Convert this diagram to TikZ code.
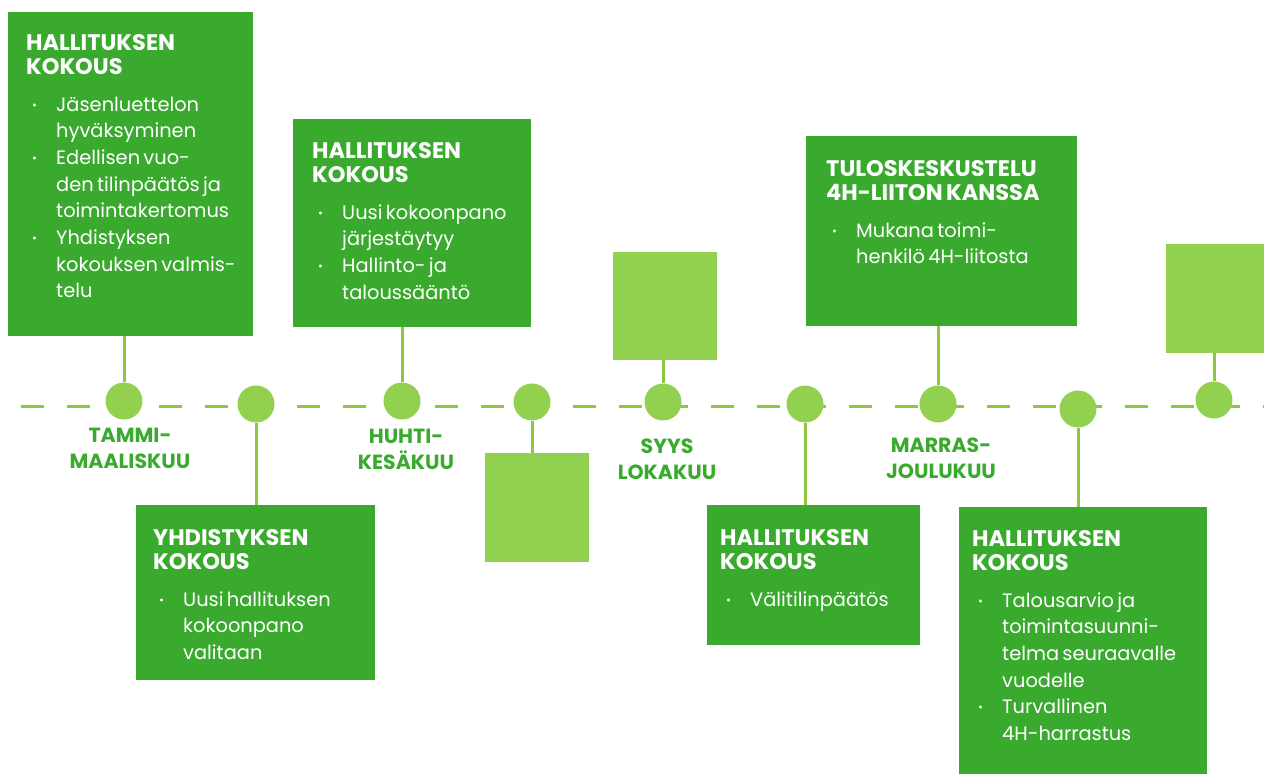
\documentclass[tikz,border=0pt]{standalone}
\usepackage{fontspec}
\setmainfont{Poppins}
\usetikzlibrary{calc}
\definecolor{dkg}{RGB}{58,170,46}
\definecolor{ltg}{RGB}{146,208,80}
\definecolor{lng}{RGB}{141,198,63}
\newcommand\hdf{\fontsize{22.5}{24}\bfseries\selectfont}
\newcommand\bdf{\fontsize{19.4}{26.7}\selectfont}
\newcommand\bul{\makebox[30pt][l]{\hspace{6pt}\raisebox{2pt}{\fontsize{12}{12}\selectfont •}}}
\newcommand\bit[1]{\par\noindent\hangindent=30pt\hangafter=1\bul{\let\\\newline #1}}
\newcommand\boxtext[2]{\setlength\parindent{0pt}\setlength\parskip{0pt}{\hdf #1\par}\vspace{10.3pt}{\bdf #2\par}}
\tikzset{
  dbox/.style={fill=dkg, draw=none, inner sep=0, anchor=north west},
  lbox/.style={fill=ltg, draw=none, inner sep=0, anchor=north west},
  dot/.style={circle, fill=ltg, draw=none, minimum size=37pt, inner sep=0},
  conn/.style={draw=lng, line width=3pt},
  tline/.style={draw=lng, line width=3pt, dash pattern=on 23pt off 23pt},
  txt/.style={anchor=base west, inner sep=0, text width=280pt, text=white},
  lbl/.style={anchor=base, inner sep=0, align=center, text=dkg, font=\fontsize{20.5}{25.5}\bfseries\selectfont}
}
\begin{document}
\begin{tikzpicture}[x=1pt,y=-1pt]
\useasboundingbox (0,0) rectangle (1264,774);
% timeline
\coordinate (ls) at (21,406);
\coordinate (le) at (1264,406);
\draw[tline] (ls) -- (le);
% boxes
\node[dbox, minimum width=245pt, minimum height=324pt] (b1) at (8,12) {};
\node[dbox, minimum width=239pt, minimum height=175pt] (b2) at (136,505) {};
\node[dbox, minimum width=238pt, minimum height=208pt] (b3) at (293,119) {};
\node[lbox, minimum width=104pt, minimum height=109pt] (b4) at (485,453) {};
\node[lbox, minimum width=104pt, minimum height=108pt] (b5) at (613,252) {};
\node[dbox, minimum width=213pt, minimum height=140pt] (b6) at (707,505) {};
\node[dbox, minimum width=271pt, minimum height=190pt] (b7) at (806,136) {};
\node[dbox, minimum width=248pt, minimum height=267pt] (b8) at (959,507) {};
\node[lbox, minimum width=98pt, minimum height=109pt] (b9) at (1166,244) {};
% circles
\node[dot] (c1) at (124,401) {};
\node[dot] (c2) at (256,404) {};
\node[dot] (c3) at (402,401) {};
\node[dot] (c4) at (532,402) {};
\node[dot] (c5) at (663,402) {};
\node[dot] (c6) at (805,404) {};
\node[dot] (c7) at (938,404) {};
\node[dot] (c8) at (1078,409) {};
\node[dot] (c9) at (1214,400) {};
% connectors
\draw[conn] (c1.north) -- (c1.north |- b1.south);
\draw[conn] (c2.south) -- (c2.south |- b2.north);
\draw[conn] (c3.north) -- (c3.north |- b3.south);
\draw[conn] (c4.south) -- (c4.south |- b4.north);
\draw[conn] (c5.north) -- (c5.north |- b5.south);
\draw[conn] (c6.south) -- (c6.south |- b6.north);
\draw[conn] (c7.north) -- (c7.north |- b7.south);
\draw[conn] (c8.south) -- (c8.south |- b8.north);
\draw[conn] (c9.north) -- (c9.north |- b9.south);
% box texts
\node[txt] (t1) at ($(b1.north west)+(18,38)$) {\boxtext{HALLITUKSEN\\KOKOUS}{%
\bit{Jäsenluettelon\\hyväksyminen}
\bit{Edellisen vuo-\\den tilinpäätös ja\\toimintakertomus}
\bit{Yhdistyksen\\kokouksen valmis-\\telu}}};
\node[txt] (t2) at ($(b2.north west)+(17,40)$) {\boxtext{YHDISTYKSEN\\KOKOUS}{%
\bit{Uusi hallituksen\\kokoonpano\\valitaan}}};
\node[txt] (t3) at ($(b3.north west)+(19,39)$) {\boxtext{HALLITUKSEN\\KOKOUS}{%
\bit{Uusi kokoonpano\\järjestäytyy}
\bit{Hallinto- ja\\taloussääntö}}};
\node[txt] (t6) at ($(b6.north west)+(13,40)$) {\boxtext{HALLITUKSEN\\KOKOUS}{%
\bit{Välitilinpäätös}}};
\node[txt] (t7) at ($(b7.north west)+(20,40)$) {\boxtext{TULOSKESKUSTELU\\4H-LIITON KANSSA}{%
\bit{Mukana toimi-\\henkilö 4H-liitosta}}};
\node[txt] (t8) at ($(b8.north west)+(13,39)$) {\boxtext{HALLITUKSEN\\KOKOUS}{%
\bit{Talousarvio ja\\toimintasuunni-\\telma seuraavalle\\vuodelle}
\bit{Turvallinen\\4H-harrastus}}};
% month labels (anchored at the baseline of the last line)
\node[lbl] (m1) at (130,468) {TAMMI-\\MAALISKUU};
\node[lbl] (m2) at (406,469) {HUHTI-\\KESÄKUU};
\node[lbl] (m3) at (667,479) {SYYS\\LOKAKUU};
\node[lbl] (m4) at (941,478) {MARRAS-\\JOULUKUU};
\end{tikzpicture}
\end{document}
